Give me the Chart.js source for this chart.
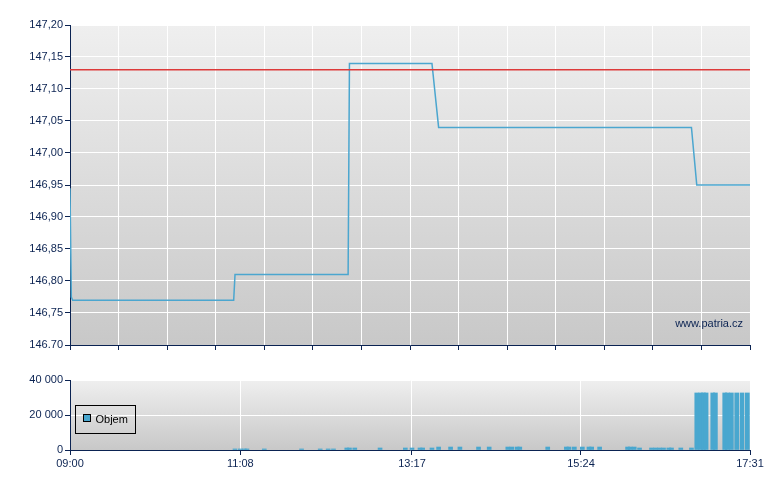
<!DOCTYPE html>
<html>
<head>
<meta charset="utf-8">
<script src="https://cdn.jsdelivr.net/npm/chart.js@4"></script>
<style>
  body { margin: 0; background: #fff; width: 780px; height: 490px; overflow: hidden; position: relative; }
  canvas { position: absolute; left: 0; }
  #priceChart { top: 0; }
  #volChart { top: 360px; }
</style>
</head>
<body>
<canvas id="priceChart" width="780" height="360"></canvas>
<canvas id="volChart" width="780" height="130"></canvas>
<script>
  // price (intraday)
  const priceTimes  = ['09:00', '09:01', '09:02', '11:03', '11:04', '12:29', '12:30', '13:32', '13:37', '16:47', '16:51', '17:31'];
  const priceValues = [146.945, 146.775, 146.77, 146.77, 146.81, 146.81, 147.14, 147.14, 147.04, 147.04, 146.95, 146.95];
  const prevClose = 147.13;
  const priceTicks = [146.70, 146.75, 146.80, 146.85, 146.90, 146.95, 147.00, 147.05, 147.10, 147.15, 147.20];
  const priceTickLabels = ['146.70', '146,75', '146,80', '146,85', '146,90', '146,95', '147,00', '147,05', '147,10', '147,15', '147,20'];

  // volume
  const volTimes = ['11:04', '11:08', '11:11', '11:13', '11:26', '11:54', '12:08', '12:14', '12:18', '12:28',
    '12:30', '12:34', '12:53', '13:12', '13:17', '13:23', '13:25', '13:32', '13:37', '13:46',
    '13:53', '14:07', '14:15', '14:29', '14:32', '14:36', '14:38', '14:59', '15:13', '15:15',
    '15:19', '15:25', '15:30', '15:32', '15:38', '15:59', '16:01', '16:04', '16:08', '16:17',
    '16:20', '16:23', '16:26', '16:30', '16:32', '16:39', '16:47', '16:51', '16:54', '16:56',
    '16:58', '17:03', '17:05', '17:12', '17:14', '17:17', '17:21', '17:25', '17:29'];
  const volValues = [600, 600, 600, 600, 600, 600, 600, 600, 600, 1150,
    1150, 1150, 1150, 1150, 1150, 1150, 1150, 1150, 1700, 1700,
    1700, 1700, 1700, 1700, 1700, 1700, 1700, 1700, 1700, 1700,
    1700, 1700, 1700, 1700, 1700, 1700, 1700, 1700, 1150, 1150,
    1150, 1150, 1150, 1150, 1150, 1150, 1150, 32600, 32600, 32600,
    32600, 32600, 32600, 32600, 32600, 32600, 32600, 32600, 32600];
  const volTicks = [0, 20000, 40000];
  const volTickLabels = ['0', '20 000', '40 000'];

  const timeTicks = ['09:00', '11:08', '13:17', '15:24', '17:31'];
  const priceGridCount = 14;

  const NAVY = '#0b2352';
  const FONT = 'Arial, "Liberation Sans", sans-serif';
  const toMin = t => { const p = t.split(':'); return +p[0] * 60 + +p[1]; };
  const tMin = toMin(timeTicks[0]);
  const tMax = toMin(timeTicks[timeTicks.length - 1]);

  const bgPlugin = {
    id: 'bg',
    beforeDraw(chart) {
      const a = chart.chartArea, c = chart.ctx;
      const g = c.createLinearGradient(0, a.top, 0, a.bottom);
      g.addColorStop(0, '#efefef');
      g.addColorStop(1, '#c8c8c8');
      c.save();
      c.fillStyle = g;
      c.fillRect(a.left, a.top, a.right - a.left, a.bottom - a.top);
      c.restore();
    }
  };

  const axisBase = {
    border: { color: NAVY, width: 1 },
    grid: { color: '#ffffff', lineWidth: 1, tickColor: NAVY, tickLength: 5 },
    ticks: { color: NAVY, font: { family: FONT, size: 11 } }
  };

  // top chart
  new Chart(document.getElementById('priceChart'), {
    type: 'line',
    data: {
      datasets: [
        {
          label: 'Předchozí závěr',
          data: [{ x: tMin, y: prevClose }, { x: tMax, y: prevClose }],
          borderColor: '#dd3a3a',
          borderWidth: 1.5,
          pointRadius: 0
        },
        {
          label: 'Cena',
          data: priceTimes.map((t, i) => ({ x: toMin(t), y: priceValues[i] })),
          borderColor: '#4ba6cf',
          borderWidth: 1.5,
          pointRadius: 0,
          tension: 0
        }
      ]
    },
    options: {
      responsive: false,
      animation: false,
      devicePixelRatio: 1,
      layout: { padding: { top: 25, right: 30, left: 0, bottom: 0 } },
      plugins: {
        legend: { display: false },
        tooltip: { enabled: false }
      },
      scales: {
        x: {
          ...axisBase,
          type: 'linear',
          min: tMin,
          max: tMax,
          ticks: { display: false },
          afterBuildTicks: s => {
            s.ticks = Array.from({ length: priceGridCount + 1 }, (_, i) => ({ value: tMin + i * (tMax - tMin) / priceGridCount }));
          },
          afterFit: s => { s.height = 15; }
        },
        y: {
          ...axisBase,
          min: priceTicks[0],
          max: priceTicks[priceTicks.length - 1],
          ticks: {
            ...axisBase.ticks,
            padding: 2,
            callback: (v, i) => priceTickLabels[i]
          },
          afterBuildTicks: s => { s.ticks = priceTicks.map(v => ({ value: v })); },
          afterFit: s => { s.width = 70; }
        }
      }
    },
    plugins: [bgPlugin, {
      id: 'watermark',
      afterDraw(chart) {
        const c = chart.ctx, a = chart.chartArea;
        c.save();
        c.font = '11px ' + FONT;
        c.fillStyle = NAVY;
        c.textAlign = 'right';
        c.textBaseline = 'middle';
        c.fillText('www.patria.cz', a.right - 7, a.bottom - 21);
        c.restore();
      }
    }]
  });

  // bottom chart
  new Chart(document.getElementById('volChart'), {
    type: 'bar',
    data: {
      datasets: [{
        label: 'Objem',
        data: volTimes.map((t, i) => ({ x: toMin(t), y: volValues[i] })),
        backgroundColor: '#49a7cf',
        barThickness: 4,
        borderWidth: 0
      }]
    },
    options: {
      responsive: false,
      animation: false,
      devicePixelRatio: 1,
      layout: { padding: { top: 20, right: 30, left: 0, bottom: 0 } },
      plugins: {
        legend: { display: false },
        tooltip: { enabled: false }
      },
      scales: {
        x: {
          ...axisBase,
          type: 'linear',
          offset: false,
          min: tMin,
          max: tMax,
          grid: { ...axisBase.grid, offset: false },
          ticks: {
            ...axisBase.ticks,
            padding: 2,
            maxRotation: 0,
            callback: (v, i) => timeTicks[i]
          },
          afterBuildTicks: s => { s.ticks = timeTicks.map(t => ({ value: toMin(t) })); },
          afterFit: s => { s.height = 40; }
        },
        y: {
          ...axisBase,
          min: volTicks[0],
          max: volTicks[volTicks.length - 1],
          ticks: {
            ...axisBase.ticks,
            padding: 2,
            callback: (v, i) => volTickLabels[i]
          },
          afterBuildTicks: s => { s.ticks = volTicks.map(v => ({ value: v })); },
          afterFit: s => { s.width = 70; }
        }
      }
    },
    plugins: [bgPlugin, {
      id: 'boxLegend',
      afterDraw(chart) {
        const c = chart.ctx, a = chart.chartArea;
        const ds = chart.data.datasets[0];
        const x = a.left + 5.5, y = a.top + 25.5;
        c.save();
        c.strokeStyle = '#000';
        c.lineWidth = 1;
        c.strokeRect(x, y, 60, 28);
        c.fillStyle = ds.backgroundColor;
        c.fillRect(x + 8, y + 9, 7, 7);
        c.strokeRect(x + 8, y + 9, 7, 7);
        c.fillStyle = '#000';
        c.font = '11px ' + FONT;
        c.textBaseline = 'middle';
        c.fillText(ds.label, x + 20, y + 14.5);
        c.restore();
      }
    }]
  });
</script>
</body>
</html>
